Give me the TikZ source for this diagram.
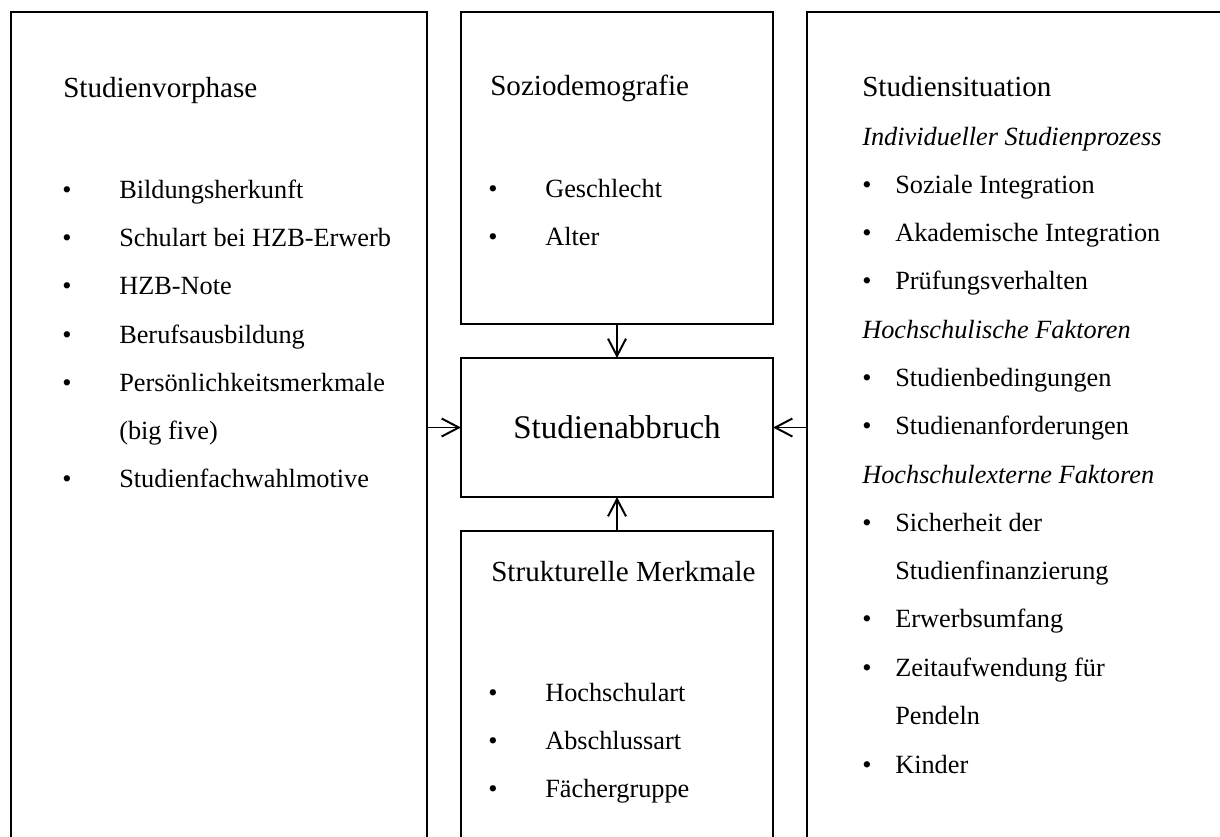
\documentclass[tikz,border=0pt]{standalone}
\usepackage{fontspec}
\setmainfont{Liberation Serif}
\usepackage{tikz}
\usetikzlibrary{arrows.meta}
\tikzstyle{tsItem} = [
    text=black,
    font=\fontsize{18.7}{22}\selectfont,
    anchor=base west,
    inner sep=0pt
]
\tikzstyle{tsBullet} = [
    tsItem,
    anchor=base
]
\tikzstyle{tsHead} = [
    tsItem,
    font=\fontsize{20.7}{24}\selectfont
]
\tikzstyle{tsSub} = [
    tsItem,
    font=\fontsize{18.7}{22}\selectfont\itshape
]
\tikzstyle{tsBox} = [
    rectangle,
    draw=black,
    line width=1.4pt,
    inner sep=0pt,
    outer sep=0pt
]
\tikzstyle{tsArrow} = [
    -{Straight Barb[length=4.3mm,width=4.5mm]},
    line width=1.4pt
]

\begin{document}
\begin{tikzpicture}[x=0.025cm, y=-0.025cm]
        \useasboundingbox (0,0) rectangle (1220,836);
        \clip (0,0) rectangle (1220,836);

        % Define boxes
        \node[  tsBox,
                minimum width=10.4cm,
                minimum height=25cm] (vor) at (219,512) {};

        \node[  tsBox,
                minimum width=7.8cm,
                minimum height=7.8cm] (sozio) at (617,168) {};

        \node[  tsBox,
                minimum width=7.8cm,
                minimum height=3.475cm,
                font=\fontsize{23.5}{28}\selectfont] (abbruch) at (617,427.5) {Studienabbruch};

        \node[  tsBox,
                minimum width=7.8cm,
                minimum height=12.5cm] (struktur) at (617,781) {};

        \node[  tsBox,
                minimum width=12.5cm,
                minimum height=25cm] (situ) at (1057,512) {};

        % Studienvorphase
        \node[tsHead] (vorHead) at (63,97) {Studienvorphase};
        \foreach \y/\txt [count=\i] in {198/Bildungsherkunft, 246/Schulart bei HZB-Erwerb,
                294/HZB-Note, 343/Berufsausbildung, 391/Persönlichkeitsmerkmale,
                487/Studienfachwahlmotive} {
            \node[tsBullet] (vorDot\i) at (67,\y) {•};
            \node[tsItem] (vorItem\i) at (119,\y) {\txt};
        }
        \node[tsItem] (vorBig) at (119,439) {(big five)};

        % Soziodemografie
        \node[tsHead] (sozioHead) at (490,95) {Soziodemografie};
        \foreach \y/\txt [count=\i] in {197/Geschlecht, 245/Alter} {
            \node[tsBullet] (sozioDot\i) at (493,\y) {•};
            \node[tsItem] (sozioItem\i) at (545,\y) {\txt};
        }

        % Strukturelle Merkmale
        \node[tsHead] (strukturHead) at (491,581) {Strukturelle Merkmale};
        \foreach \y/\txt [count=\i] in {701/Hochschulart, 749/Abschlussart, 797/Fächergruppe} {
            \node[tsBullet] (strukturDot\i) at (493,\y) {•};
            \node[tsItem] (strukturItem\i) at (545,\y) {\txt};
        }

        % Studiensituation
        \node[tsHead] (situHead) at (862,96) {Studiensituation};
        \node[tsSub] (situSub1) at (862,145) {Individueller Studienprozess};
        \node[tsSub] (situSub2) at (862,338) {Hochschulische Faktoren};
        \node[tsSub] (situSub3) at (862,483) {Hochschulexterne Faktoren};
        \foreach \y/\txt [count=\i] in {193/Soziale Integration, 241/Akademische Integration,
                289/Prüfungsverhalten, 386/Studienbedingungen, 434/Studienanforderungen,
                531/Sicherheit der, 627/Erwerbsumfang, 676/Zeitaufwendung für, 773/Kinder} {
            \node[tsBullet] (situDot\i) at (867,\y) {•};
            \node[tsItem] (situItem\i) at (895,\y) {\txt};
        }
        \node[tsItem] (situFin) at (895,579) {Studienfinanzierung};
        \node[tsItem] (situPen) at (895,724) {Pendeln};

        % Arrows
        \draw[tsArrow] (vor.east |- abbruch.west) -- (abbruch.west);
        \draw[tsArrow] (situ.west |- abbruch.east) -- (abbruch.east);
        \draw[tsArrow] (sozio.south) -- (abbruch.north);
        \draw[tsArrow] (struktur.north) -- (abbruch.south);

    \end{tikzpicture}
\end{document}
